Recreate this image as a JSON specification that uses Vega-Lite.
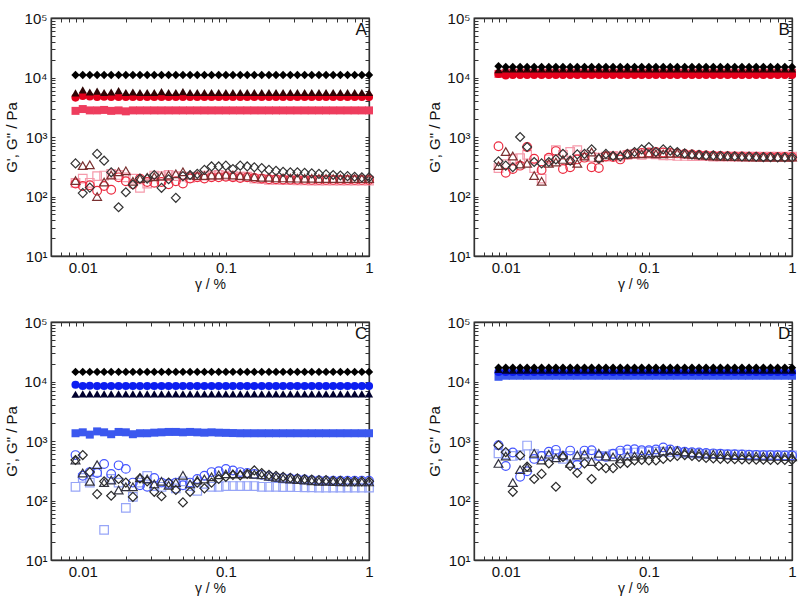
{
"$schema":"https://vega.github.io/schema/vega-lite/v6.json",
"background":"white",
"padding":{"left":4,"top":10,"right":4,"bottom":4},
"datasets":{
"A":[
{"s":"S1","x":0.0089,"y":2750},{"s":"S1","x":0.01,"y":2950},{"s":"S1","x":0.0112,"y":2800},{"s":"S1","x":0.0126,"y":2800},{"s":"S1","x":0.0141,"y":2850},{"s":"S1","x":0.0158,"y":2750},{"s":"S1","x":0.0178,"y":2800},{"s":"S1","x":0.02,"y":2700},{"s":"S1","x":0.0224,"y":2800},{"s":"S1","x":0.0251,"y":2800},{"s":"S1","x":0.0282,"y":2800},{"s":"S1","x":0.0316,"y":2800},{"s":"S1","x":0.0355,"y":2800},{"s":"S1","x":0.0398,"y":2800},{"s":"S1","x":0.0447,"y":2800},{"s":"S1","x":0.0501,"y":2800},{"s":"S1","x":0.0562,"y":2800},{"s":"S1","x":0.0631,"y":2800},{"s":"S1","x":0.0708,"y":2800},{"s":"S1","x":0.0794,"y":2800},{"s":"S1","x":0.0891,"y":2800},{"s":"S1","x":0.1,"y":2800},{"s":"S1","x":0.112,"y":2800},{"s":"S1","x":0.126,"y":2800},{"s":"S1","x":0.141,"y":2800},{"s":"S1","x":0.158,"y":2800},{"s":"S1","x":0.178,"y":2800},{"s":"S1","x":0.2,"y":2800},{"s":"S1","x":0.224,"y":2800},{"s":"S1","x":0.251,"y":2800},{"s":"S1","x":0.282,"y":2800},{"s":"S1","x":0.316,"y":2800},{"s":"S1","x":0.355,"y":2800},{"s":"S1","x":0.398,"y":2800},{"s":"S1","x":0.447,"y":2800},{"s":"S1","x":0.501,"y":2800},{"s":"S1","x":0.562,"y":2800},{"s":"S1","x":0.631,"y":2800},{"s":"S1","x":0.708,"y":2800},{"s":"S1","x":0.794,"y":2800},{"s":"S1","x":0.891,"y":2800},{"s":"S1","x":1,"y":2800},
{"s":"C1","x":0.0089,"y":4600},{"s":"C1","x":0.01,"y":4900},{"s":"C1","x":0.0112,"y":4800},{"s":"C1","x":0.0126,"y":4700},{"s":"C1","x":0.0141,"y":4750},{"s":"C1","x":0.0158,"y":4700},{"s":"C1","x":0.0178,"y":4700},{"s":"C1","x":0.02,"y":4700},{"s":"C1","x":0.0224,"y":4700},{"s":"C1","x":0.0251,"y":4700},{"s":"C1","x":0.0282,"y":4700},{"s":"C1","x":0.0316,"y":4700},{"s":"C1","x":0.0355,"y":4700},{"s":"C1","x":0.0398,"y":4700},{"s":"C1","x":0.0447,"y":4700},{"s":"C1","x":0.0501,"y":4700},{"s":"C1","x":0.0562,"y":4700},{"s":"C1","x":0.0631,"y":4700},{"s":"C1","x":0.0708,"y":4700},{"s":"C1","x":0.0794,"y":4700},{"s":"C1","x":0.0891,"y":4700},{"s":"C1","x":0.1,"y":4700},{"s":"C1","x":0.112,"y":4700},{"s":"C1","x":0.126,"y":4700},{"s":"C1","x":0.141,"y":4700},{"s":"C1","x":0.158,"y":4700},{"s":"C1","x":0.178,"y":4700},{"s":"C1","x":0.2,"y":4700},{"s":"C1","x":0.224,"y":4700},{"s":"C1","x":0.251,"y":4700},{"s":"C1","x":0.282,"y":4700},{"s":"C1","x":0.316,"y":4700},{"s":"C1","x":0.355,"y":4700},{"s":"C1","x":0.398,"y":4700},{"s":"C1","x":0.447,"y":4700},{"s":"C1","x":0.501,"y":4700},{"s":"C1","x":0.562,"y":4700},{"s":"C1","x":0.631,"y":4700},{"s":"C1","x":0.708,"y":4700},{"s":"C1","x":0.794,"y":4700},{"s":"C1","x":0.891,"y":4700},{"s":"C1","x":1,"y":4700},
{"s":"T1","x":0.0089,"y":5500},{"s":"T1","x":0.01,"y":6200},{"s":"T1","x":0.0112,"y":5700},{"s":"T1","x":0.0126,"y":5900},{"s":"T1","x":0.0141,"y":5600},{"s":"T1","x":0.0158,"y":5700},{"s":"T1","x":0.0178,"y":6000},{"s":"T1","x":0.02,"y":5600},{"s":"T1","x":0.0224,"y":5700},{"s":"T1","x":0.0251,"y":5600},{"s":"T1","x":0.0282,"y":5600},{"s":"T1","x":0.0316,"y":5600},{"s":"T1","x":0.0355,"y":5800},{"s":"T1","x":0.0398,"y":5600},{"s":"T1","x":0.0447,"y":5600},{"s":"T1","x":0.0501,"y":5800},{"s":"T1","x":0.0562,"y":5600},{"s":"T1","x":0.0631,"y":5600},{"s":"T1","x":0.0708,"y":5600},{"s":"T1","x":0.0794,"y":5600},{"s":"T1","x":0.0891,"y":5600},{"s":"T1","x":0.1,"y":5600},{"s":"T1","x":0.112,"y":5600},{"s":"T1","x":0.126,"y":5600},{"s":"T1","x":0.141,"y":5600},{"s":"T1","x":0.158,"y":5600},{"s":"T1","x":0.178,"y":5600},{"s":"T1","x":0.2,"y":5600},{"s":"T1","x":0.224,"y":5600},{"s":"T1","x":0.251,"y":5600},{"s":"T1","x":0.282,"y":5600},{"s":"T1","x":0.316,"y":5600},{"s":"T1","x":0.355,"y":5600},{"s":"T1","x":0.398,"y":5600},{"s":"T1","x":0.447,"y":5600},{"s":"T1","x":0.501,"y":5600},{"s":"T1","x":0.562,"y":5600},{"s":"T1","x":0.631,"y":5600},{"s":"T1","x":0.708,"y":5600},{"s":"T1","x":0.794,"y":5600},{"s":"T1","x":0.891,"y":5600},{"s":"T1","x":1,"y":5600},
{"s":"D1","x":0.0089,"y":11000},{"s":"D1","x":0.01,"y":11000},{"s":"D1","x":0.0112,"y":11000},{"s":"D1","x":0.0126,"y":11000},{"s":"D1","x":0.0141,"y":11000},{"s":"D1","x":0.0158,"y":11000},{"s":"D1","x":0.0178,"y":11000},{"s":"D1","x":0.02,"y":11000},{"s":"D1","x":0.0224,"y":11000},{"s":"D1","x":0.0251,"y":11000},{"s":"D1","x":0.0282,"y":11000},{"s":"D1","x":0.0316,"y":11000},{"s":"D1","x":0.0355,"y":11000},{"s":"D1","x":0.0398,"y":11000},{"s":"D1","x":0.0447,"y":11000},{"s":"D1","x":0.0501,"y":11000},{"s":"D1","x":0.0562,"y":11000},{"s":"D1","x":0.0631,"y":11000},{"s":"D1","x":0.0708,"y":11000},{"s":"D1","x":0.0794,"y":11000},{"s":"D1","x":0.0891,"y":11000},{"s":"D1","x":0.1,"y":11000},{"s":"D1","x":0.112,"y":11000},{"s":"D1","x":0.126,"y":11000},{"s":"D1","x":0.141,"y":11000},{"s":"D1","x":0.158,"y":11000},{"s":"D1","x":0.178,"y":11000},{"s":"D1","x":0.2,"y":11000},{"s":"D1","x":0.224,"y":11000},{"s":"D1","x":0.251,"y":11000},{"s":"D1","x":0.282,"y":11000},{"s":"D1","x":0.316,"y":11000},{"s":"D1","x":0.355,"y":11000},{"s":"D1","x":0.398,"y":11000},{"s":"D1","x":0.447,"y":11000},{"s":"D1","x":0.501,"y":11000},{"s":"D1","x":0.562,"y":11000},{"s":"D1","x":0.631,"y":11000},{"s":"D1","x":0.708,"y":11000},{"s":"D1","x":0.794,"y":11000},{"s":"D1","x":0.891,"y":11000},{"s":"D1","x":1,"y":11000},
{"s":"S2","x":0.0089,"y":170},{"s":"S2","x":0.01,"y":200},{"s":"S2","x":0.0112,"y":170},{"s":"S2","x":0.0126,"y":220},{"s":"S2","x":0.0141,"y":225},{"s":"S2","x":0.0158,"y":240},{"s":"S2","x":0.0178,"y":230},{"s":"S2","x":0.02,"y":210},{"s":"S2","x":0.0224,"y":200},{"s":"S2","x":0.0251,"y":140},{"s":"S2","x":0.0282,"y":165},{"s":"S2","x":0.0316,"y":225},{"s":"S2","x":0.0355,"y":220},{"s":"S2","x":0.0398,"y":230},{"s":"S2","x":0.0447,"y":220},{"s":"S2","x":0.0501,"y":215},{"s":"S2","x":0.0562,"y":205},{"s":"S2","x":0.0631,"y":215},{"s":"S2","x":0.0708,"y":225},{"s":"S2","x":0.0794,"y":225},{"s":"S2","x":0.0891,"y":230},{"s":"S2","x":0.1,"y":225},{"s":"S2","x":0.112,"y":220},{"s":"S2","x":0.126,"y":215},{"s":"S2","x":0.141,"y":215},{"s":"S2","x":0.158,"y":200},{"s":"S2","x":0.178,"y":195},{"s":"S2","x":0.2,"y":190},{"s":"S2","x":0.224,"y":190},{"s":"S2","x":0.251,"y":188},{"s":"S2","x":0.282,"y":188},{"s":"S2","x":0.316,"y":186},{"s":"S2","x":0.355,"y":186},{"s":"S2","x":0.398,"y":185},{"s":"S2","x":0.447,"y":185},{"s":"S2","x":0.501,"y":185},{"s":"S2","x":0.562,"y":185},{"s":"S2","x":0.631,"y":185},{"s":"S2","x":0.708,"y":185},{"s":"S2","x":0.794,"y":185},{"s":"S2","x":0.891,"y":185},{"s":"S2","x":1,"y":185},
{"s":"C2","x":0.0089,"y":165},{"s":"C2","x":0.01,"y":150},{"s":"C2","x":0.0112,"y":155},{"s":"C2","x":0.0126,"y":125},{"s":"C2","x":0.0141,"y":150},{"s":"C2","x":0.0158,"y":130},{"s":"C2","x":0.0178,"y":210},{"s":"C2","x":0.02,"y":180},{"s":"C2","x":0.0224,"y":160},{"s":"C2","x":0.0251,"y":200},{"s":"C2","x":0.0282,"y":175},{"s":"C2","x":0.0316,"y":170},{"s":"C2","x":0.0355,"y":175},{"s":"C2","x":0.0398,"y":160},{"s":"C2","x":0.0447,"y":180},{"s":"C2","x":0.0501,"y":165},{"s":"C2","x":0.0562,"y":200},{"s":"C2","x":0.0631,"y":210},{"s":"C2","x":0.0708,"y":200},{"s":"C2","x":0.0794,"y":210},{"s":"C2","x":0.0891,"y":210},{"s":"C2","x":0.1,"y":215},{"s":"C2","x":0.112,"y":210},{"s":"C2","x":0.126,"y":205},{"s":"C2","x":0.141,"y":210},{"s":"C2","x":0.158,"y":205},{"s":"C2","x":0.178,"y":200},{"s":"C2","x":0.2,"y":195},{"s":"C2","x":0.224,"y":195},{"s":"C2","x":0.251,"y":193},{"s":"C2","x":0.282,"y":192},{"s":"C2","x":0.316,"y":191},{"s":"C2","x":0.355,"y":190},{"s":"C2","x":0.398,"y":190},{"s":"C2","x":0.447,"y":190},{"s":"C2","x":0.501,"y":190},{"s":"C2","x":0.562,"y":190},{"s":"C2","x":0.631,"y":190},{"s":"C2","x":0.708,"y":190},{"s":"C2","x":0.794,"y":190},{"s":"C2","x":0.891,"y":190},{"s":"C2","x":1,"y":190},
{"s":"T2","x":0.0089,"y":185},{"s":"T2","x":0.01,"y":330},{"s":"T2","x":0.0112,"y":340},{"s":"T2","x":0.0126,"y":100},{"s":"T2","x":0.0141,"y":175},{"s":"T2","x":0.0158,"y":230},{"s":"T2","x":0.0178,"y":260},{"s":"T2","x":0.02,"y":270},{"s":"T2","x":0.0224,"y":180},{"s":"T2","x":0.0251,"y":200},{"s":"T2","x":0.0282,"y":210},{"s":"T2","x":0.0316,"y":215},{"s":"T2","x":0.0355,"y":220},{"s":"T2","x":0.0398,"y":230},{"s":"T2","x":0.0447,"y":240},{"s":"T2","x":0.0501,"y":260},{"s":"T2","x":0.0562,"y":230},{"s":"T2","x":0.0631,"y":225},{"s":"T2","x":0.0708,"y":225},{"s":"T2","x":0.0794,"y":230},{"s":"T2","x":0.0891,"y":230},{"s":"T2","x":0.1,"y":235},{"s":"T2","x":0.112,"y":230},{"s":"T2","x":0.126,"y":225},{"s":"T2","x":0.141,"y":220},{"s":"T2","x":0.158,"y":215},{"s":"T2","x":0.178,"y":210},{"s":"T2","x":0.2,"y":210},{"s":"T2","x":0.224,"y":205},{"s":"T2","x":0.251,"y":205},{"s":"T2","x":0.282,"y":204},{"s":"T2","x":0.316,"y":203},{"s":"T2","x":0.355,"y":202},{"s":"T2","x":0.398,"y":202},{"s":"T2","x":0.447,"y":201},{"s":"T2","x":0.501,"y":201},{"s":"T2","x":0.562,"y":200},{"s":"T2","x":0.631,"y":200},{"s":"T2","x":0.708,"y":200},{"s":"T2","x":0.794,"y":200},{"s":"T2","x":0.891,"y":200},{"s":"T2","x":1,"y":200},
{"s":"D2","x":0.0089,"y":360},{"s":"D2","x":0.01,"y":114},{"s":"D2","x":0.0112,"y":141},{"s":"D2","x":0.0126,"y":520},{"s":"D2","x":0.0141,"y":400},{"s":"D2","x":0.0158,"y":255},{"s":"D2","x":0.0178,"y":66},{"s":"D2","x":0.02,"y":118},{"s":"D2","x":0.0224,"y":158},{"s":"D2","x":0.0251,"y":200},{"s":"D2","x":0.0282,"y":200},{"s":"D2","x":0.0316,"y":230},{"s":"D2","x":0.0355,"y":140},{"s":"D2","x":0.0398,"y":195},{"s":"D2","x":0.0447,"y":95},{"s":"D2","x":0.0501,"y":220},{"s":"D2","x":0.0562,"y":230},{"s":"D2","x":0.0631,"y":240},{"s":"D2","x":0.0708,"y":280},{"s":"D2","x":0.0794,"y":320},{"s":"D2","x":0.0891,"y":320},{"s":"D2","x":0.1,"y":330},{"s":"D2","x":0.112,"y":290},{"s":"D2","x":0.126,"y":330},{"s":"D2","x":0.141,"y":320},{"s":"D2","x":0.158,"y":310},{"s":"D2","x":0.178,"y":300},{"s":"D2","x":0.2,"y":280},{"s":"D2","x":0.224,"y":270},{"s":"D2","x":0.251,"y":260},{"s":"D2","x":0.282,"y":255},{"s":"D2","x":0.316,"y":255},{"s":"D2","x":0.355,"y":250},{"s":"D2","x":0.398,"y":245},{"s":"D2","x":0.447,"y":240},{"s":"D2","x":0.501,"y":235},{"s":"D2","x":0.562,"y":230},{"s":"D2","x":0.631,"y":225},{"s":"D2","x":0.708,"y":220},{"s":"D2","x":0.794,"y":215},{"s":"D2","x":0.891,"y":210},{"s":"D2","x":1,"y":210}
],
"B":[
{"s":"S1","x":0.0089,"y":11500},{"s":"S1","x":0.01,"y":12000},{"s":"S1","x":0.0112,"y":12000},{"s":"S1","x":0.0126,"y":12000},{"s":"S1","x":0.0141,"y":12000},{"s":"S1","x":0.0158,"y":12000},{"s":"S1","x":0.0178,"y":12000},{"s":"S1","x":0.02,"y":12000},{"s":"S1","x":0.0224,"y":12000},{"s":"S1","x":0.0251,"y":12000},{"s":"S1","x":0.0282,"y":12000},{"s":"S1","x":0.0316,"y":12000},{"s":"S1","x":0.0355,"y":12000},{"s":"S1","x":0.0398,"y":12000},{"s":"S1","x":0.0447,"y":12000},{"s":"S1","x":0.0501,"y":12000},{"s":"S1","x":0.0562,"y":12000},{"s":"S1","x":0.0631,"y":12000},{"s":"S1","x":0.0708,"y":12000},{"s":"S1","x":0.0794,"y":12000},{"s":"S1","x":0.0891,"y":12000},{"s":"S1","x":0.1,"y":12000},{"s":"S1","x":0.112,"y":12000},{"s":"S1","x":0.126,"y":12000},{"s":"S1","x":0.141,"y":12000},{"s":"S1","x":0.158,"y":12000},{"s":"S1","x":0.178,"y":12000},{"s":"S1","x":0.2,"y":12000},{"s":"S1","x":0.224,"y":12000},{"s":"S1","x":0.251,"y":12000},{"s":"S1","x":0.282,"y":12000},{"s":"S1","x":0.316,"y":12000},{"s":"S1","x":0.355,"y":12000},{"s":"S1","x":0.398,"y":12000},{"s":"S1","x":0.447,"y":12000},{"s":"S1","x":0.501,"y":12000},{"s":"S1","x":0.562,"y":12000},{"s":"S1","x":0.631,"y":12000},{"s":"S1","x":0.708,"y":12000},{"s":"S1","x":0.794,"y":12000},{"s":"S1","x":0.891,"y":12000},{"s":"S1","x":1,"y":12000},
{"s":"C1","x":0.0089,"y":11500},{"s":"C1","x":0.01,"y":10800},{"s":"C1","x":0.0112,"y":11000},{"s":"C1","x":0.0126,"y":11000},{"s":"C1","x":0.0141,"y":11000},{"s":"C1","x":0.0158,"y":11000},{"s":"C1","x":0.0178,"y":11000},{"s":"C1","x":0.02,"y":11000},{"s":"C1","x":0.0224,"y":11000},{"s":"C1","x":0.0251,"y":11000},{"s":"C1","x":0.0282,"y":11000},{"s":"C1","x":0.0316,"y":11000},{"s":"C1","x":0.0355,"y":11000},{"s":"C1","x":0.0398,"y":11000},{"s":"C1","x":0.0447,"y":11000},{"s":"C1","x":0.0501,"y":11000},{"s":"C1","x":0.0562,"y":11000},{"s":"C1","x":0.0631,"y":11000},{"s":"C1","x":0.0708,"y":11000},{"s":"C1","x":0.0794,"y":11000},{"s":"C1","x":0.0891,"y":11000},{"s":"C1","x":0.1,"y":11000},{"s":"C1","x":0.112,"y":11000},{"s":"C1","x":0.126,"y":11000},{"s":"C1","x":0.141,"y":11000},{"s":"C1","x":0.158,"y":11000},{"s":"C1","x":0.178,"y":11000},{"s":"C1","x":0.2,"y":11000},{"s":"C1","x":0.224,"y":11000},{"s":"C1","x":0.251,"y":11000},{"s":"C1","x":0.282,"y":11000},{"s":"C1","x":0.316,"y":11000},{"s":"C1","x":0.355,"y":11000},{"s":"C1","x":0.398,"y":11000},{"s":"C1","x":0.447,"y":11000},{"s":"C1","x":0.501,"y":11000},{"s":"C1","x":0.562,"y":11000},{"s":"C1","x":0.631,"y":11000},{"s":"C1","x":0.708,"y":11000},{"s":"C1","x":0.794,"y":11000},{"s":"C1","x":0.891,"y":11000},{"s":"C1","x":1,"y":11000},
{"s":"T1","x":0.0089,"y":13500},{"s":"T1","x":0.01,"y":14000},{"s":"T1","x":0.0112,"y":14000},{"s":"T1","x":0.0126,"y":14000},{"s":"T1","x":0.0141,"y":14000},{"s":"T1","x":0.0158,"y":14000},{"s":"T1","x":0.0178,"y":14000},{"s":"T1","x":0.02,"y":14000},{"s":"T1","x":0.0224,"y":14000},{"s":"T1","x":0.0251,"y":14000},{"s":"T1","x":0.0282,"y":14000},{"s":"T1","x":0.0316,"y":14000},{"s":"T1","x":0.0355,"y":14000},{"s":"T1","x":0.0398,"y":14000},{"s":"T1","x":0.0447,"y":14000},{"s":"T1","x":0.0501,"y":14000},{"s":"T1","x":0.0562,"y":14000},{"s":"T1","x":0.0631,"y":14000},{"s":"T1","x":0.0708,"y":14000},{"s":"T1","x":0.0794,"y":14000},{"s":"T1","x":0.0891,"y":14000},{"s":"T1","x":0.1,"y":14000},{"s":"T1","x":0.112,"y":14000},{"s":"T1","x":0.126,"y":14000},{"s":"T1","x":0.141,"y":14000},{"s":"T1","x":0.158,"y":14000},{"s":"T1","x":0.178,"y":14000},{"s":"T1","x":0.2,"y":14000},{"s":"T1","x":0.224,"y":14000},{"s":"T1","x":0.251,"y":14000},{"s":"T1","x":0.282,"y":14000},{"s":"T1","x":0.316,"y":14000},{"s":"T1","x":0.355,"y":14000},{"s":"T1","x":0.398,"y":14000},{"s":"T1","x":0.447,"y":14000},{"s":"T1","x":0.501,"y":14000},{"s":"T1","x":0.562,"y":14000},{"s":"T1","x":0.631,"y":14000},{"s":"T1","x":0.708,"y":14000},{"s":"T1","x":0.794,"y":14000},{"s":"T1","x":0.891,"y":14000},{"s":"T1","x":1,"y":14000},
{"s":"D1","x":0.0089,"y":15500},{"s":"D1","x":0.01,"y":15000},{"s":"D1","x":0.0112,"y":15000},{"s":"D1","x":0.0126,"y":15000},{"s":"D1","x":0.0141,"y":15000},{"s":"D1","x":0.0158,"y":15000},{"s":"D1","x":0.0178,"y":15000},{"s":"D1","x":0.02,"y":15000},{"s":"D1","x":0.0224,"y":15000},{"s":"D1","x":0.0251,"y":15000},{"s":"D1","x":0.0282,"y":15000},{"s":"D1","x":0.0316,"y":15000},{"s":"D1","x":0.0355,"y":15000},{"s":"D1","x":0.0398,"y":15000},{"s":"D1","x":0.0447,"y":15000},{"s":"D1","x":0.0501,"y":15000},{"s":"D1","x":0.0562,"y":15000},{"s":"D1","x":0.0631,"y":15000},{"s":"D1","x":0.0708,"y":15000},{"s":"D1","x":0.0794,"y":15000},{"s":"D1","x":0.0891,"y":15000},{"s":"D1","x":0.1,"y":15000},{"s":"D1","x":0.112,"y":15000},{"s":"D1","x":0.126,"y":15000},{"s":"D1","x":0.141,"y":15000},{"s":"D1","x":0.158,"y":15000},{"s":"D1","x":0.178,"y":15000},{"s":"D1","x":0.2,"y":15000},{"s":"D1","x":0.224,"y":15000},{"s":"D1","x":0.251,"y":15000},{"s":"D1","x":0.282,"y":15000},{"s":"D1","x":0.316,"y":15000},{"s":"D1","x":0.355,"y":15000},{"s":"D1","x":0.398,"y":15000},{"s":"D1","x":0.447,"y":15000},{"s":"D1","x":0.501,"y":15000},{"s":"D1","x":0.562,"y":15000},{"s":"D1","x":0.631,"y":15000},{"s":"D1","x":0.708,"y":15000},{"s":"D1","x":0.794,"y":15000},{"s":"D1","x":0.891,"y":15000},{"s":"D1","x":1,"y":15000},
{"s":"S2","x":0.0089,"y":300},{"s":"S2","x":0.01,"y":350},{"s":"S2","x":0.0112,"y":430},{"s":"S2","x":0.0126,"y":440},{"s":"S2","x":0.0141,"y":500},{"s":"S2","x":0.0158,"y":300},{"s":"S2","x":0.0178,"y":200},{"s":"S2","x":0.02,"y":420},{"s":"S2","x":0.0224,"y":600},{"s":"S2","x":0.0251,"y":500},{"s":"S2","x":0.0282,"y":560},{"s":"S2","x":0.0316,"y":600},{"s":"S2","x":0.0355,"y":500},{"s":"S2","x":0.0398,"y":460},{"s":"S2","x":0.0447,"y":450},{"s":"S2","x":0.0501,"y":470},{"s":"S2","x":0.0562,"y":480},{"s":"S2","x":0.0631,"y":470},{"s":"S2","x":0.0708,"y":500},{"s":"S2","x":0.0794,"y":520},{"s":"S2","x":0.0891,"y":500},{"s":"S2","x":0.1,"y":520},{"s":"S2","x":0.112,"y":510},{"s":"S2","x":0.126,"y":490},{"s":"S2","x":0.141,"y":490},{"s":"S2","x":0.158,"y":480},{"s":"S2","x":0.178,"y":480},{"s":"S2","x":0.2,"y":475},{"s":"S2","x":0.224,"y":475},{"s":"S2","x":0.251,"y":475},{"s":"S2","x":0.282,"y":470},{"s":"S2","x":0.316,"y":470},{"s":"S2","x":0.355,"y":470},{"s":"S2","x":0.398,"y":470},{"s":"S2","x":0.447,"y":470},{"s":"S2","x":0.501,"y":470},{"s":"S2","x":0.562,"y":470},{"s":"S2","x":0.631,"y":470},{"s":"S2","x":0.708,"y":470},{"s":"S2","x":0.794,"y":470},{"s":"S2","x":0.891,"y":470},{"s":"S2","x":1,"y":470},
{"s":"C2","x":0.0089,"y":700},{"s":"C2","x":0.01,"y":250},{"s":"C2","x":0.0112,"y":290},{"s":"C2","x":0.0126,"y":330},{"s":"C2","x":0.0141,"y":680},{"s":"C2","x":0.0158,"y":430},{"s":"C2","x":0.0178,"y":280},{"s":"C2","x":0.02,"y":450},{"s":"C2","x":0.0224,"y":580},{"s":"C2","x":0.0251,"y":290},{"s":"C2","x":0.0282,"y":310},{"s":"C2","x":0.0316,"y":420},{"s":"C2","x":0.0355,"y":450},{"s":"C2","x":0.0398,"y":310},{"s":"C2","x":0.0447,"y":300},{"s":"C2","x":0.0501,"y":470},{"s":"C2","x":0.0562,"y":460},{"s":"C2","x":0.0631,"y":420},{"s":"C2","x":0.0708,"y":510},{"s":"C2","x":0.0794,"y":530},{"s":"C2","x":0.0891,"y":540},{"s":"C2","x":0.1,"y":550},{"s":"C2","x":0.112,"y":560},{"s":"C2","x":0.126,"y":550},{"s":"C2","x":0.141,"y":540},{"s":"C2","x":0.158,"y":530},{"s":"C2","x":0.178,"y":520},{"s":"C2","x":0.2,"y":510},{"s":"C2","x":0.224,"y":500},{"s":"C2","x":0.251,"y":490},{"s":"C2","x":0.282,"y":485},{"s":"C2","x":0.316,"y":480},{"s":"C2","x":0.355,"y":475},{"s":"C2","x":0.398,"y":470},{"s":"C2","x":0.447,"y":470},{"s":"C2","x":0.501,"y":465},{"s":"C2","x":0.562,"y":465},{"s":"C2","x":0.631,"y":460},{"s":"C2","x":0.708,"y":460},{"s":"C2","x":0.794,"y":460},{"s":"C2","x":0.891,"y":460},{"s":"C2","x":1,"y":460},
{"s":"T2","x":0.0089,"y":330},{"s":"T2","x":0.01,"y":570},{"s":"T2","x":0.0112,"y":480},{"s":"T2","x":0.0126,"y":350},{"s":"T2","x":0.0141,"y":360},{"s":"T2","x":0.0158,"y":225},{"s":"T2","x":0.0178,"y":180},{"s":"T2","x":0.02,"y":360},{"s":"T2","x":0.0224,"y":380},{"s":"T2","x":0.0251,"y":420},{"s":"T2","x":0.0282,"y":400},{"s":"T2","x":0.0316,"y":360},{"s":"T2","x":0.0355,"y":480},{"s":"T2","x":0.0398,"y":560},{"s":"T2","x":0.0447,"y":450},{"s":"T2","x":0.0501,"y":500},{"s":"T2","x":0.0562,"y":490},{"s":"T2","x":0.0631,"y":500},{"s":"T2","x":0.0708,"y":510},{"s":"T2","x":0.0794,"y":520},{"s":"T2","x":0.0891,"y":520},{"s":"T2","x":0.1,"y":530},{"s":"T2","x":0.112,"y":520},{"s":"T2","x":0.126,"y":520},{"s":"T2","x":0.141,"y":530},{"s":"T2","x":0.158,"y":540},{"s":"T2","x":0.178,"y":520},{"s":"T2","x":0.2,"y":510},{"s":"T2","x":0.224,"y":500},{"s":"T2","x":0.251,"y":490},{"s":"T2","x":0.282,"y":480},{"s":"T2","x":0.316,"y":475},{"s":"T2","x":0.355,"y":470},{"s":"T2","x":0.398,"y":470},{"s":"T2","x":0.447,"y":465},{"s":"T2","x":0.501,"y":465},{"s":"T2","x":0.562,"y":460},{"s":"T2","x":0.631,"y":460},{"s":"T2","x":0.708,"y":460},{"s":"T2","x":0.794,"y":460},{"s":"T2","x":0.891,"y":460},{"s":"T2","x":1,"y":460},
{"s":"D2","x":0.0089,"y":390},{"s":"D2","x":0.01,"y":330},{"s":"D2","x":0.0112,"y":310},{"s":"D2","x":0.0126,"y":1000},{"s":"D2","x":0.0141,"y":680},{"s":"D2","x":0.0158,"y":380},{"s":"D2","x":0.0178,"y":360},{"s":"D2","x":0.02,"y":380},{"s":"D2","x":0.0224,"y":420},{"s":"D2","x":0.0251,"y":520},{"s":"D2","x":0.0282,"y":400},{"s":"D2","x":0.0316,"y":510},{"s":"D2","x":0.0355,"y":520},{"s":"D2","x":0.0398,"y":620},{"s":"D2","x":0.0447,"y":430},{"s":"D2","x":0.0501,"y":520},{"s":"D2","x":0.0562,"y":480},{"s":"D2","x":0.0631,"y":470},{"s":"D2","x":0.0708,"y":520},{"s":"D2","x":0.0794,"y":560},{"s":"D2","x":0.0891,"y":620},{"s":"D2","x":0.1,"y":680},{"s":"D2","x":0.112,"y":560},{"s":"D2","x":0.126,"y":620},{"s":"D2","x":0.141,"y":590},{"s":"D2","x":0.158,"y":560},{"s":"D2","x":0.178,"y":530},{"s":"D2","x":0.2,"y":510},{"s":"D2","x":0.224,"y":500},{"s":"D2","x":0.251,"y":490},{"s":"D2","x":0.282,"y":490},{"s":"D2","x":0.316,"y":485},{"s":"D2","x":0.355,"y":480},{"s":"D2","x":0.398,"y":475},{"s":"D2","x":0.447,"y":470},{"s":"D2","x":0.501,"y":470},{"s":"D2","x":0.562,"y":465},{"s":"D2","x":0.631,"y":460},{"s":"D2","x":0.708,"y":460},{"s":"D2","x":0.794,"y":455},{"s":"D2","x":0.891,"y":455},{"s":"D2","x":1,"y":455}
],
"C":[
{"s":"S1","x":0.0089,"y":1350},{"s":"S1","x":0.01,"y":1400},{"s":"S1","x":0.0112,"y":1280},{"s":"S1","x":0.0126,"y":1450},{"s":"S1","x":0.0141,"y":1400},{"s":"S1","x":0.0158,"y":1300},{"s":"S1","x":0.0178,"y":1420},{"s":"S1","x":0.02,"y":1400},{"s":"S1","x":0.0224,"y":1300},{"s":"S1","x":0.0251,"y":1350},{"s":"S1","x":0.0282,"y":1350},{"s":"S1","x":0.0316,"y":1380},{"s":"S1","x":0.0355,"y":1400},{"s":"S1","x":0.0398,"y":1420},{"s":"S1","x":0.0447,"y":1420},{"s":"S1","x":0.0501,"y":1400},{"s":"S1","x":0.0562,"y":1420},{"s":"S1","x":0.0631,"y":1400},{"s":"S1","x":0.0708,"y":1380},{"s":"S1","x":0.0794,"y":1400},{"s":"S1","x":0.0891,"y":1380},{"s":"S1","x":0.1,"y":1370},{"s":"S1","x":0.112,"y":1360},{"s":"S1","x":0.126,"y":1350},{"s":"S1","x":0.141,"y":1350},{"s":"S1","x":0.158,"y":1350},{"s":"S1","x":0.178,"y":1350},{"s":"S1","x":0.2,"y":1350},{"s":"S1","x":0.224,"y":1350},{"s":"S1","x":0.251,"y":1350},{"s":"S1","x":0.282,"y":1350},{"s":"S1","x":0.316,"y":1350},{"s":"S1","x":0.355,"y":1350},{"s":"S1","x":0.398,"y":1350},{"s":"S1","x":0.447,"y":1350},{"s":"S1","x":0.501,"y":1350},{"s":"S1","x":0.562,"y":1350},{"s":"S1","x":0.631,"y":1350},{"s":"S1","x":0.708,"y":1350},{"s":"S1","x":0.794,"y":1350},{"s":"S1","x":0.891,"y":1350},{"s":"S1","x":1,"y":1350},
{"s":"C1","x":0.0089,"y":8800},{"s":"C1","x":0.01,"y":8400},{"s":"C1","x":0.0112,"y":8500},{"s":"C1","x":0.0126,"y":8400},{"s":"C1","x":0.0141,"y":8400},{"s":"C1","x":0.0158,"y":8400},{"s":"C1","x":0.0178,"y":8400},{"s":"C1","x":0.02,"y":8400},{"s":"C1","x":0.0224,"y":8400},{"s":"C1","x":0.0251,"y":8400},{"s":"C1","x":0.0282,"y":8400},{"s":"C1","x":0.0316,"y":8400},{"s":"C1","x":0.0355,"y":8400},{"s":"C1","x":0.0398,"y":8400},{"s":"C1","x":0.0447,"y":8400},{"s":"C1","x":0.0501,"y":8400},{"s":"C1","x":0.0562,"y":8400},{"s":"C1","x":0.0631,"y":8400},{"s":"C1","x":0.0708,"y":8400},{"s":"C1","x":0.0794,"y":8400},{"s":"C1","x":0.0891,"y":8400},{"s":"C1","x":0.1,"y":8400},{"s":"C1","x":0.112,"y":8400},{"s":"C1","x":0.126,"y":8400},{"s":"C1","x":0.141,"y":8400},{"s":"C1","x":0.158,"y":8400},{"s":"C1","x":0.178,"y":8400},{"s":"C1","x":0.2,"y":8400},{"s":"C1","x":0.224,"y":8400},{"s":"C1","x":0.251,"y":8400},{"s":"C1","x":0.282,"y":8400},{"s":"C1","x":0.316,"y":8400},{"s":"C1","x":0.355,"y":8400},{"s":"C1","x":0.398,"y":8400},{"s":"C1","x":0.447,"y":8400},{"s":"C1","x":0.501,"y":8400},{"s":"C1","x":0.562,"y":8400},{"s":"C1","x":0.631,"y":8400},{"s":"C1","x":0.708,"y":8400},{"s":"C1","x":0.794,"y":8400},{"s":"C1","x":0.891,"y":8400},{"s":"C1","x":1,"y":8400},
{"s":"T1","x":0.0089,"y":6100},{"s":"T1","x":0.01,"y":6200},{"s":"T1","x":0.0112,"y":6200},{"s":"T1","x":0.0126,"y":6200},{"s":"T1","x":0.0141,"y":6200},{"s":"T1","x":0.0158,"y":6200},{"s":"T1","x":0.0178,"y":6200},{"s":"T1","x":0.02,"y":6200},{"s":"T1","x":0.0224,"y":6200},{"s":"T1","x":0.0251,"y":6200},{"s":"T1","x":0.0282,"y":6200},{"s":"T1","x":0.0316,"y":6200},{"s":"T1","x":0.0355,"y":6200},{"s":"T1","x":0.0398,"y":6200},{"s":"T1","x":0.0447,"y":6200},{"s":"T1","x":0.0501,"y":6200},{"s":"T1","x":0.0562,"y":6200},{"s":"T1","x":0.0631,"y":6200},{"s":"T1","x":0.0708,"y":6200},{"s":"T1","x":0.0794,"y":6200},{"s":"T1","x":0.0891,"y":6200},{"s":"T1","x":0.1,"y":6200},{"s":"T1","x":0.112,"y":6200},{"s":"T1","x":0.126,"y":6200},{"s":"T1","x":0.141,"y":6200},{"s":"T1","x":0.158,"y":6200},{"s":"T1","x":0.178,"y":6200},{"s":"T1","x":0.2,"y":6200},{"s":"T1","x":0.224,"y":6200},{"s":"T1","x":0.251,"y":6200},{"s":"T1","x":0.282,"y":6200},{"s":"T1","x":0.316,"y":6200},{"s":"T1","x":0.355,"y":6200},{"s":"T1","x":0.398,"y":6200},{"s":"T1","x":0.447,"y":6200},{"s":"T1","x":0.501,"y":6200},{"s":"T1","x":0.562,"y":6200},{"s":"T1","x":0.631,"y":6200},{"s":"T1","x":0.708,"y":6200},{"s":"T1","x":0.794,"y":6200},{"s":"T1","x":0.891,"y":6200},{"s":"T1","x":1,"y":6200},
{"s":"D1","x":0.0089,"y":14500},{"s":"D1","x":0.01,"y":14500},{"s":"D1","x":0.0112,"y":14500},{"s":"D1","x":0.0126,"y":14500},{"s":"D1","x":0.0141,"y":14500},{"s":"D1","x":0.0158,"y":14500},{"s":"D1","x":0.0178,"y":14500},{"s":"D1","x":0.02,"y":14500},{"s":"D1","x":0.0224,"y":14500},{"s":"D1","x":0.0251,"y":14500},{"s":"D1","x":0.0282,"y":14500},{"s":"D1","x":0.0316,"y":14500},{"s":"D1","x":0.0355,"y":14500},{"s":"D1","x":0.0398,"y":14500},{"s":"D1","x":0.0447,"y":14500},{"s":"D1","x":0.0501,"y":14500},{"s":"D1","x":0.0562,"y":14500},{"s":"D1","x":0.0631,"y":14500},{"s":"D1","x":0.0708,"y":14500},{"s":"D1","x":0.0794,"y":14500},{"s":"D1","x":0.0891,"y":14500},{"s":"D1","x":0.1,"y":14500},{"s":"D1","x":0.112,"y":14500},{"s":"D1","x":0.126,"y":14500},{"s":"D1","x":0.141,"y":14500},{"s":"D1","x":0.158,"y":14500},{"s":"D1","x":0.178,"y":14500},{"s":"D1","x":0.2,"y":14500},{"s":"D1","x":0.224,"y":14500},{"s":"D1","x":0.251,"y":14500},{"s":"D1","x":0.282,"y":14500},{"s":"D1","x":0.316,"y":14500},{"s":"D1","x":0.355,"y":14500},{"s":"D1","x":0.398,"y":14500},{"s":"D1","x":0.447,"y":14500},{"s":"D1","x":0.501,"y":14500},{"s":"D1","x":0.562,"y":14500},{"s":"D1","x":0.631,"y":14500},{"s":"D1","x":0.708,"y":14500},{"s":"D1","x":0.794,"y":14500},{"s":"D1","x":0.891,"y":14500},{"s":"D1","x":1,"y":14500},
{"s":"S2","x":0.0089,"y":170},{"s":"S2","x":0.01,"y":240},{"s":"S2","x":0.0112,"y":200},{"s":"S2","x":0.0126,"y":300},{"s":"S2","x":0.0141,"y":32},{"s":"S2","x":0.0158,"y":230},{"s":"S2","x":0.0178,"y":200},{"s":"S2","x":0.02,"y":75},{"s":"S2","x":0.0224,"y":115},{"s":"S2","x":0.0251,"y":200},{"s":"S2","x":0.0282,"y":260},{"s":"S2","x":0.0316,"y":175},{"s":"S2","x":0.0355,"y":170},{"s":"S2","x":0.0398,"y":190},{"s":"S2","x":0.0447,"y":160},{"s":"S2","x":0.0501,"y":210},{"s":"S2","x":0.0562,"y":175},{"s":"S2","x":0.0631,"y":145},{"s":"S2","x":0.0708,"y":190},{"s":"S2","x":0.0794,"y":170},{"s":"S2","x":0.0891,"y":170},{"s":"S2","x":0.1,"y":175},{"s":"S2","x":0.112,"y":175},{"s":"S2","x":0.126,"y":175},{"s":"S2","x":0.141,"y":175},{"s":"S2","x":0.158,"y":175},{"s":"S2","x":0.178,"y":170},{"s":"S2","x":0.2,"y":170},{"s":"S2","x":0.224,"y":170},{"s":"S2","x":0.251,"y":168},{"s":"S2","x":0.282,"y":168},{"s":"S2","x":0.316,"y":167},{"s":"S2","x":0.355,"y":166},{"s":"S2","x":0.398,"y":166},{"s":"S2","x":0.447,"y":165},{"s":"S2","x":0.501,"y":165},{"s":"S2","x":0.562,"y":165},{"s":"S2","x":0.631,"y":165},{"s":"S2","x":0.708,"y":165},{"s":"S2","x":0.794,"y":165},{"s":"S2","x":0.891,"y":165},{"s":"S2","x":1,"y":165},
{"s":"C2","x":0.0089,"y":580},{"s":"C2","x":0.01,"y":260},{"s":"C2","x":0.0112,"y":300},{"s":"C2","x":0.0126,"y":290},{"s":"C2","x":0.0141,"y":410},{"s":"C2","x":0.0158,"y":280},{"s":"C2","x":0.0178,"y":390},{"s":"C2","x":0.02,"y":340},{"s":"C2","x":0.0224,"y":200},{"s":"C2","x":0.0251,"y":180},{"s":"C2","x":0.0282,"y":170},{"s":"C2","x":0.0316,"y":240},{"s":"C2","x":0.0355,"y":200},{"s":"C2","x":0.0398,"y":190},{"s":"C2","x":0.0447,"y":200},{"s":"C2","x":0.0501,"y":180},{"s":"C2","x":0.0562,"y":200},{"s":"C2","x":0.0631,"y":230},{"s":"C2","x":0.0708,"y":260},{"s":"C2","x":0.0794,"y":300},{"s":"C2","x":0.0891,"y":310},{"s":"C2","x":0.1,"y":340},{"s":"C2","x":0.112,"y":320},{"s":"C2","x":0.126,"y":300},{"s":"C2","x":0.141,"y":290},{"s":"C2","x":0.158,"y":280},{"s":"C2","x":0.178,"y":270},{"s":"C2","x":0.2,"y":255},{"s":"C2","x":0.224,"y":245},{"s":"C2","x":0.251,"y":240},{"s":"C2","x":0.282,"y":235},{"s":"C2","x":0.316,"y":230},{"s":"C2","x":0.355,"y":225},{"s":"C2","x":0.398,"y":220},{"s":"C2","x":0.447,"y":218},{"s":"C2","x":0.501,"y":216},{"s":"C2","x":0.562,"y":215},{"s":"C2","x":0.631,"y":215},{"s":"C2","x":0.708,"y":215},{"s":"C2","x":0.794,"y":215},{"s":"C2","x":0.891,"y":215},{"s":"C2","x":1,"y":215},
{"s":"T2","x":0.0089,"y":480},{"s":"T2","x":0.01,"y":290},{"s":"T2","x":0.0112,"y":210},{"s":"T2","x":0.0126,"y":400},{"s":"T2","x":0.0141,"y":200},{"s":"T2","x":0.0158,"y":220},{"s":"T2","x":0.0178,"y":150},{"s":"T2","x":0.02,"y":170},{"s":"T2","x":0.0224,"y":170},{"s":"T2","x":0.0251,"y":240},{"s":"T2","x":0.0282,"y":230},{"s":"T2","x":0.0316,"y":190},{"s":"T2","x":0.0355,"y":210},{"s":"T2","x":0.0398,"y":180},{"s":"T2","x":0.0447,"y":200},{"s":"T2","x":0.0501,"y":265},{"s":"T2","x":0.0562,"y":190},{"s":"T2","x":0.0631,"y":220},{"s":"T2","x":0.0708,"y":230},{"s":"T2","x":0.0794,"y":250},{"s":"T2","x":0.0891,"y":270},{"s":"T2","x":0.1,"y":280},{"s":"T2","x":0.112,"y":280},{"s":"T2","x":0.126,"y":280},{"s":"T2","x":0.141,"y":280},{"s":"T2","x":0.158,"y":275},{"s":"T2","x":0.178,"y":270},{"s":"T2","x":0.2,"y":255},{"s":"T2","x":0.224,"y":245},{"s":"T2","x":0.251,"y":235},{"s":"T2","x":0.282,"y":230},{"s":"T2","x":0.316,"y":225},{"s":"T2","x":0.355,"y":220},{"s":"T2","x":0.398,"y":215},{"s":"T2","x":0.447,"y":210},{"s":"T2","x":0.501,"y":210},{"s":"T2","x":0.562,"y":208},{"s":"T2","x":0.631,"y":206},{"s":"T2","x":0.708,"y":205},{"s":"T2","x":0.794,"y":205},{"s":"T2","x":0.891,"y":205},{"s":"T2","x":1,"y":205},
{"s":"D2","x":0.0089,"y":480},{"s":"D2","x":0.01,"y":580},{"s":"D2","x":0.0112,"y":300},{"s":"D2","x":0.0126,"y":128},{"s":"D2","x":0.0141,"y":210},{"s":"D2","x":0.0158,"y":120},{"s":"D2","x":0.0178,"y":230},{"s":"D2","x":0.02,"y":200},{"s":"D2","x":0.0224,"y":115},{"s":"D2","x":0.0251,"y":235},{"s":"D2","x":0.0282,"y":210},{"s":"D2","x":0.0316,"y":140},{"s":"D2","x":0.0355,"y":118},{"s":"D2","x":0.0398,"y":200},{"s":"D2","x":0.0447,"y":150},{"s":"D2","x":0.0501,"y":93},{"s":"D2","x":0.0562,"y":140},{"s":"D2","x":0.0631,"y":200},{"s":"D2","x":0.0708,"y":160},{"s":"D2","x":0.0794,"y":200},{"s":"D2","x":0.0891,"y":230},{"s":"D2","x":0.1,"y":250},{"s":"D2","x":0.112,"y":270},{"s":"D2","x":0.126,"y":265},{"s":"D2","x":0.141,"y":280},{"s":"D2","x":0.158,"y":320},{"s":"D2","x":0.178,"y":290},{"s":"D2","x":0.2,"y":270},{"s":"D2","x":0.224,"y":260},{"s":"D2","x":0.251,"y":250},{"s":"D2","x":0.282,"y":240},{"s":"D2","x":0.316,"y":235},{"s":"D2","x":0.355,"y":230},{"s":"D2","x":0.398,"y":225},{"s":"D2","x":0.447,"y":220},{"s":"D2","x":0.501,"y":220},{"s":"D2","x":0.562,"y":215},{"s":"D2","x":0.631,"y":215},{"s":"D2","x":0.708,"y":210},{"s":"D2","x":0.794,"y":210},{"s":"D2","x":0.891,"y":210},{"s":"D2","x":1,"y":210}
],
"D":[
{"s":"S1","x":0.0089,"y":12000},{"s":"S1","x":0.01,"y":12500},{"s":"S1","x":0.0112,"y":12500},{"s":"S1","x":0.0126,"y":12500},{"s":"S1","x":0.0141,"y":12500},{"s":"S1","x":0.0158,"y":12500},{"s":"S1","x":0.0178,"y":12500},{"s":"S1","x":0.02,"y":12500},{"s":"S1","x":0.0224,"y":12500},{"s":"S1","x":0.0251,"y":12500},{"s":"S1","x":0.0282,"y":12500},{"s":"S1","x":0.0316,"y":12500},{"s":"S1","x":0.0355,"y":12500},{"s":"S1","x":0.0398,"y":12500},{"s":"S1","x":0.0447,"y":12500},{"s":"S1","x":0.0501,"y":12500},{"s":"S1","x":0.0562,"y":12500},{"s":"S1","x":0.0631,"y":12500},{"s":"S1","x":0.0708,"y":12500},{"s":"S1","x":0.0794,"y":12500},{"s":"S1","x":0.0891,"y":12500},{"s":"S1","x":0.1,"y":12500},{"s":"S1","x":0.112,"y":12500},{"s":"S1","x":0.126,"y":12500},{"s":"S1","x":0.141,"y":12500},{"s":"S1","x":0.158,"y":12500},{"s":"S1","x":0.178,"y":12500},{"s":"S1","x":0.2,"y":12500},{"s":"S1","x":0.224,"y":12500},{"s":"S1","x":0.251,"y":12500},{"s":"S1","x":0.282,"y":12500},{"s":"S1","x":0.316,"y":12500},{"s":"S1","x":0.355,"y":12500},{"s":"S1","x":0.398,"y":12500},{"s":"S1","x":0.447,"y":12500},{"s":"S1","x":0.501,"y":12500},{"s":"S1","x":0.562,"y":12500},{"s":"S1","x":0.631,"y":12500},{"s":"S1","x":0.708,"y":12500},{"s":"S1","x":0.794,"y":12500},{"s":"S1","x":0.891,"y":12500},{"s":"S1","x":1,"y":12500},
{"s":"C1","x":0.0089,"y":14500},{"s":"C1","x":0.01,"y":14500},{"s":"C1","x":0.0112,"y":14500},{"s":"C1","x":0.0126,"y":14500},{"s":"C1","x":0.0141,"y":14500},{"s":"C1","x":0.0158,"y":14500},{"s":"C1","x":0.0178,"y":14500},{"s":"C1","x":0.02,"y":14500},{"s":"C1","x":0.0224,"y":14500},{"s":"C1","x":0.0251,"y":14500},{"s":"C1","x":0.0282,"y":14500},{"s":"C1","x":0.0316,"y":14500},{"s":"C1","x":0.0355,"y":14500},{"s":"C1","x":0.0398,"y":14500},{"s":"C1","x":0.0447,"y":14500},{"s":"C1","x":0.0501,"y":14500},{"s":"C1","x":0.0562,"y":14500},{"s":"C1","x":0.0631,"y":14500},{"s":"C1","x":0.0708,"y":14500},{"s":"C1","x":0.0794,"y":14500},{"s":"C1","x":0.0891,"y":14500},{"s":"C1","x":0.1,"y":14500},{"s":"C1","x":0.112,"y":14500},{"s":"C1","x":0.126,"y":14500},{"s":"C1","x":0.141,"y":14500},{"s":"C1","x":0.158,"y":14500},{"s":"C1","x":0.178,"y":14500},{"s":"C1","x":0.2,"y":14500},{"s":"C1","x":0.224,"y":14500},{"s":"C1","x":0.251,"y":14500},{"s":"C1","x":0.282,"y":14500},{"s":"C1","x":0.316,"y":14500},{"s":"C1","x":0.355,"y":14500},{"s":"C1","x":0.398,"y":14500},{"s":"C1","x":0.447,"y":14500},{"s":"C1","x":0.501,"y":14500},{"s":"C1","x":0.562,"y":14500},{"s":"C1","x":0.631,"y":14500},{"s":"C1","x":0.708,"y":14500},{"s":"C1","x":0.794,"y":14500},{"s":"C1","x":0.891,"y":14500},{"s":"C1","x":1,"y":14500},
{"s":"T1","x":0.0089,"y":16000},{"s":"T1","x":0.01,"y":15500},{"s":"T1","x":0.0112,"y":15500},{"s":"T1","x":0.0126,"y":15500},{"s":"T1","x":0.0141,"y":15500},{"s":"T1","x":0.0158,"y":15500},{"s":"T1","x":0.0178,"y":15500},{"s":"T1","x":0.02,"y":15500},{"s":"T1","x":0.0224,"y":15500},{"s":"T1","x":0.0251,"y":15500},{"s":"T1","x":0.0282,"y":15500},{"s":"T1","x":0.0316,"y":15500},{"s":"T1","x":0.0355,"y":15500},{"s":"T1","x":0.0398,"y":15500},{"s":"T1","x":0.0447,"y":15500},{"s":"T1","x":0.0501,"y":15500},{"s":"T1","x":0.0562,"y":15500},{"s":"T1","x":0.0631,"y":15500},{"s":"T1","x":0.0708,"y":15500},{"s":"T1","x":0.0794,"y":15500},{"s":"T1","x":0.0891,"y":15500},{"s":"T1","x":0.1,"y":15500},{"s":"T1","x":0.112,"y":15500},{"s":"T1","x":0.126,"y":15500},{"s":"T1","x":0.141,"y":15500},{"s":"T1","x":0.158,"y":15500},{"s":"T1","x":0.178,"y":15500},{"s":"T1","x":0.2,"y":15500},{"s":"T1","x":0.224,"y":15500},{"s":"T1","x":0.251,"y":15500},{"s":"T1","x":0.282,"y":15500},{"s":"T1","x":0.316,"y":15500},{"s":"T1","x":0.355,"y":15500},{"s":"T1","x":0.398,"y":15500},{"s":"T1","x":0.447,"y":15500},{"s":"T1","x":0.501,"y":15500},{"s":"T1","x":0.562,"y":15500},{"s":"T1","x":0.631,"y":15500},{"s":"T1","x":0.708,"y":15500},{"s":"T1","x":0.794,"y":15500},{"s":"T1","x":0.891,"y":15500},{"s":"T1","x":1,"y":15500},
{"s":"D1","x":0.0089,"y":17000},{"s":"D1","x":0.01,"y":17000},{"s":"D1","x":0.0112,"y":17000},{"s":"D1","x":0.0126,"y":17000},{"s":"D1","x":0.0141,"y":17000},{"s":"D1","x":0.0158,"y":17000},{"s":"D1","x":0.0178,"y":17000},{"s":"D1","x":0.02,"y":17000},{"s":"D1","x":0.0224,"y":17000},{"s":"D1","x":0.0251,"y":17000},{"s":"D1","x":0.0282,"y":17000},{"s":"D1","x":0.0316,"y":17000},{"s":"D1","x":0.0355,"y":17000},{"s":"D1","x":0.0398,"y":17000},{"s":"D1","x":0.0447,"y":17000},{"s":"D1","x":0.0501,"y":17000},{"s":"D1","x":0.0562,"y":17000},{"s":"D1","x":0.0631,"y":17000},{"s":"D1","x":0.0708,"y":17000},{"s":"D1","x":0.0794,"y":17000},{"s":"D1","x":0.0891,"y":17000},{"s":"D1","x":0.1,"y":17000},{"s":"D1","x":0.112,"y":17000},{"s":"D1","x":0.126,"y":17000},{"s":"D1","x":0.141,"y":17000},{"s":"D1","x":0.158,"y":17000},{"s":"D1","x":0.178,"y":17000},{"s":"D1","x":0.2,"y":17000},{"s":"D1","x":0.224,"y":17000},{"s":"D1","x":0.251,"y":17000},{"s":"D1","x":0.282,"y":17000},{"s":"D1","x":0.316,"y":17000},{"s":"D1","x":0.355,"y":17000},{"s":"D1","x":0.398,"y":17000},{"s":"D1","x":0.447,"y":17000},{"s":"D1","x":0.501,"y":17000},{"s":"D1","x":0.562,"y":17000},{"s":"D1","x":0.631,"y":17000},{"s":"D1","x":0.708,"y":17000},{"s":"D1","x":0.794,"y":17000},{"s":"D1","x":0.891,"y":17000},{"s":"D1","x":1,"y":17000},
{"s":"S2","x":0.0089,"y":620},{"s":"S2","x":0.01,"y":600},{"s":"S2","x":0.0112,"y":560},{"s":"S2","x":0.0126,"y":580},{"s":"S2","x":0.0141,"y":840},{"s":"S2","x":0.0158,"y":600},{"s":"S2","x":0.0178,"y":560},{"s":"S2","x":0.02,"y":560},{"s":"S2","x":0.0224,"y":600},{"s":"S2","x":0.0251,"y":500},{"s":"S2","x":0.0282,"y":560},{"s":"S2","x":0.0316,"y":540},{"s":"S2","x":0.0355,"y":560},{"s":"S2","x":0.0398,"y":600},{"s":"S2","x":0.0447,"y":560},{"s":"S2","x":0.0501,"y":560},{"s":"S2","x":0.0562,"y":600},{"s":"S2","x":0.0631,"y":620},{"s":"S2","x":0.0708,"y":620},{"s":"S2","x":0.0794,"y":640},{"s":"S2","x":0.0891,"y":650},{"s":"S2","x":0.1,"y":660},{"s":"S2","x":0.112,"y":660},{"s":"S2","x":0.126,"y":660},{"s":"S2","x":0.141,"y":650},{"s":"S2","x":0.158,"y":640},{"s":"S2","x":0.178,"y":630},{"s":"S2","x":0.2,"y":620},{"s":"S2","x":0.224,"y":610},{"s":"S2","x":0.251,"y":600},{"s":"S2","x":0.282,"y":600},{"s":"S2","x":0.316,"y":600},{"s":"S2","x":0.355,"y":595},{"s":"S2","x":0.398,"y":590},{"s":"S2","x":0.447,"y":590},{"s":"S2","x":0.501,"y":585},{"s":"S2","x":0.562,"y":580},{"s":"S2","x":0.631,"y":580},{"s":"S2","x":0.708,"y":580},{"s":"S2","x":0.794,"y":580},{"s":"S2","x":0.891,"y":575},{"s":"S2","x":1,"y":575},
{"s":"C2","x":0.0089,"y":850},{"s":"C2","x":0.01,"y":380},{"s":"C2","x":0.0112,"y":640},{"s":"C2","x":0.0126,"y":250},{"s":"C2","x":0.0141,"y":310},{"s":"C2","x":0.0158,"y":500},{"s":"C2","x":0.0178,"y":560},{"s":"C2","x":0.02,"y":660},{"s":"C2","x":0.0224,"y":710},{"s":"C2","x":0.0251,"y":560},{"s":"C2","x":0.0282,"y":690},{"s":"C2","x":0.0316,"y":400},{"s":"C2","x":0.0355,"y":690},{"s":"C2","x":0.0398,"y":700},{"s":"C2","x":0.0447,"y":560},{"s":"C2","x":0.0501,"y":540},{"s":"C2","x":0.0562,"y":610},{"s":"C2","x":0.0631,"y":690},{"s":"C2","x":0.0708,"y":720},{"s":"C2","x":0.0794,"y":730},{"s":"C2","x":0.0891,"y":700},{"s":"C2","x":0.1,"y":700},{"s":"C2","x":0.112,"y":720},{"s":"C2","x":0.126,"y":780},{"s":"C2","x":0.141,"y":720},{"s":"C2","x":0.158,"y":680},{"s":"C2","x":0.178,"y":660},{"s":"C2","x":0.2,"y":650},{"s":"C2","x":0.224,"y":640},{"s":"C2","x":0.251,"y":630},{"s":"C2","x":0.282,"y":620},{"s":"C2","x":0.316,"y":610},{"s":"C2","x":0.355,"y":600},{"s":"C2","x":0.398,"y":600},{"s":"C2","x":0.447,"y":595},{"s":"C2","x":0.501,"y":590},{"s":"C2","x":0.562,"y":585},{"s":"C2","x":0.631,"y":580},{"s":"C2","x":0.708,"y":580},{"s":"C2","x":0.794,"y":575},{"s":"C2","x":0.891,"y":570},{"s":"C2","x":1,"y":570},
{"s":"T2","x":0.0089,"y":420},{"s":"T2","x":0.01,"y":560},{"s":"T2","x":0.0112,"y":200},{"s":"T2","x":0.0126,"y":330},{"s":"T2","x":0.0141,"y":360},{"s":"T2","x":0.0158,"y":620},{"s":"T2","x":0.0178,"y":480},{"s":"T2","x":0.02,"y":600},{"s":"T2","x":0.0224,"y":520},{"s":"T2","x":0.0251,"y":580},{"s":"T2","x":0.0282,"y":420},{"s":"T2","x":0.0316,"y":580},{"s":"T2","x":0.0355,"y":600},{"s":"T2","x":0.0398,"y":450},{"s":"T2","x":0.0447,"y":620},{"s":"T2","x":0.0501,"y":560},{"s":"T2","x":0.0562,"y":540},{"s":"T2","x":0.0631,"y":500},{"s":"T2","x":0.0708,"y":560},{"s":"T2","x":0.0794,"y":560},{"s":"T2","x":0.0891,"y":580},{"s":"T2","x":0.1,"y":600},{"s":"T2","x":0.112,"y":640},{"s":"T2","x":0.126,"y":680},{"s":"T2","x":0.141,"y":700},{"s":"T2","x":0.158,"y":690},{"s":"T2","x":0.178,"y":650},{"s":"T2","x":0.2,"y":630},{"s":"T2","x":0.224,"y":620},{"s":"T2","x":0.251,"y":600},{"s":"T2","x":0.282,"y":600},{"s":"T2","x":0.316,"y":590},{"s":"T2","x":0.355,"y":580},{"s":"T2","x":0.398,"y":570},{"s":"T2","x":0.447,"y":570},{"s":"T2","x":0.501,"y":560},{"s":"T2","x":0.562,"y":560},{"s":"T2","x":0.631,"y":555},{"s":"T2","x":0.708,"y":550},{"s":"T2","x":0.794,"y":550},{"s":"T2","x":0.891,"y":545},{"s":"T2","x":1,"y":540},
{"s":"D2","x":0.0089,"y":850},{"s":"D2","x":0.01,"y":650},{"s":"D2","x":0.0112,"y":140},{"s":"D2","x":0.0126,"y":570},{"s":"D2","x":0.0141,"y":370},{"s":"D2","x":0.0158,"y":230},{"s":"D2","x":0.0178,"y":280},{"s":"D2","x":0.02,"y":420},{"s":"D2","x":0.0224,"y":170},{"s":"D2","x":0.0251,"y":540},{"s":"D2","x":0.0282,"y":380},{"s":"D2","x":0.0316,"y":290},{"s":"D2","x":0.0355,"y":420},{"s":"D2","x":0.0398,"y":230},{"s":"D2","x":0.0447,"y":380},{"s":"D2","x":0.0501,"y":350},{"s":"D2","x":0.0562,"y":350},{"s":"D2","x":0.0631,"y":420},{"s":"D2","x":0.0708,"y":430},{"s":"D2","x":0.0794,"y":470},{"s":"D2","x":0.0891,"y":480},{"s":"D2","x":0.1,"y":470},{"s":"D2","x":0.112,"y":470},{"s":"D2","x":0.126,"y":500},{"s":"D2","x":0.141,"y":540},{"s":"D2","x":0.158,"y":560},{"s":"D2","x":0.178,"y":580},{"s":"D2","x":0.2,"y":560},{"s":"D2","x":0.224,"y":540},{"s":"D2","x":0.251,"y":520},{"s":"D2","x":0.282,"y":510},{"s":"D2","x":0.316,"y":500},{"s":"D2","x":0.355,"y":500},{"s":"D2","x":0.398,"y":495},{"s":"D2","x":0.447,"y":490},{"s":"D2","x":0.501,"y":490},{"s":"D2","x":0.562,"y":485},{"s":"D2","x":0.631,"y":485},{"s":"D2","x":0.708,"y":480},{"s":"D2","x":0.794,"y":480},{"s":"D2","x":0.891,"y":480},{"s":"D2","x":1,"y":480}
]
},
"columns":2,
"spacing":{"row":22,"column":50},
"resolve":{"scale":{"color":"independent","shape":"independent","size":"independent","x":"independent","y":"independent"}},
"concat":[
{"width":318,"height":238,"layer":[
{"data":{"name":"A"},"transform":[{"filter":{"field":"s","oneOf":["S1","C1","T1","D1"]}}],"mark":{"type":"point","filled":true,"opacity":1},
"encoding":{"x":{"field":"x","type":"quantitative","scale":{"type":"log","domain":[0.006,1],"nice":false},"axis":{"orient":"bottom","title":"γ / %","values":[0.006,0.007,0.008,0.009,0.01,0.02,0.03,0.04,0.05,0.06,0.07,0.08,0.09,0.1,0.2,0.3,0.4,0.5,0.6,0.7,0.8,0.9,1],"labelExpr":"datum.value==0.01?'0.01':datum.value==0.1?'0.1':datum.value==1?'1':''"}},
"y":{"field":"y","type":"quantitative","scale":{"type":"log","domain":[10,100000],"nice":false},"axis":{"orient":"left","title":"G', G\" / Pa","values":[10,20,30,40,50,60,70,80,90,100,200,300,400,500,600,700,800,900,1000,2000,3000,4000,5000,6000,7000,8000,9000,10000,20000,30000,40000,50000,60000,70000,80000,90000,100000],"labelExpr":"datum.value==10?'10¹':datum.value==100?'10²':datum.value==1000?'10³':datum.value==10000?'10⁴':datum.value==100000?'10⁵':''"}},
"color":{"field":"s","type":"nominal","scale":{"domain":["S1","C1","T1","D1","S2","C2","T2","D2"],"range":["#ee3d5e","#e3001b","#2e0404","#000000","#f59aab","#ec2a3f","#7a3030","#333333"]},"legend":null},
"shape":{"field":"s","type":"nominal","scale":{"domain":["S1","C1","T1","D1","S2","C2","T2","D2"],"range":["square","circle","triangle-up","diamond","square","circle","triangle-up","diamond"]},"legend":null},
"size":{"field":"s","type":"ordinal","scale":{"domain":["S1","C1","T1","D1","S2","C2","T2","D2"],"range":[64,80,85,115,64,75,80,105]},"legend":null}}},
{"data":{"name":"A"},"transform":[{"filter":{"field":"s","oneOf":["S2","C2","T2","D2"]}}],"mark":{"type":"point","filled":false,"opacity":1,"strokeWidth":1.2},
"encoding":{"x":{"field":"x","type":"quantitative","scale":{"type":"log","domain":[0.006,1],"nice":false},"axis":{"orient":"top","title":null,"labels":false,"values":[0.006,0.007,0.008,0.009,0.01,0.02,0.03,0.04,0.05,0.06,0.07,0.08,0.09,0.1,0.2,0.3,0.4,0.5,0.6,0.7,0.8,0.9,1]}},
"y":{"field":"y","type":"quantitative","scale":{"type":"log","domain":[10,100000],"nice":false},"axis":{"orient":"right","title":null,"labels":false,"values":[10,20,30,40,50,60,70,80,90,100,200,300,400,500,600,700,800,900,1000,2000,3000,4000,5000,6000,7000,8000,9000,10000,20000,30000,40000,50000,60000,70000,80000,90000,100000]}},
"color":{"field":"s","type":"nominal","scale":{"domain":["S1","C1","T1","D1","S2","C2","T2","D2"],"range":["#ee3d5e","#e3001b","#2e0404","#000000","#f59aab","#ec2a3f","#7a3030","#333333"]},"legend":null},
"shape":{"field":"s","type":"nominal","scale":{"domain":["S1","C1","T1","D1","S2","C2","T2","D2"],"range":["square","circle","triangle-up","diamond","square","circle","triangle-up","diamond"]},"legend":null},
"size":{"field":"s","type":"ordinal","scale":{"domain":["S1","C1","T1","D1","S2","C2","T2","D2"],"range":[64,80,85,115,64,75,80,105]},"legend":null}}},
{"data":{"values":[{"t":"A","x":0.88,"y":63000}]},"mark":{"type":"text","fontSize":17,"font":"Liberation Sans","color":"#111","align":"center","baseline":"middle"},
"encoding":{"x":{"field":"x","type":"quantitative","scale":{"type":"log","domain":[0.006,1],"nice":false},"axis":null},"y":{"field":"y","type":"quantitative","scale":{"type":"log","domain":[10,100000],"nice":false},"axis":null},"text":{"field":"t"}}}
],"resolve":{"axis":{"x":"independent","y":"independent"}}},
{"width":318,"height":238,"layer":[
{"data":{"name":"B"},"transform":[{"filter":{"field":"s","oneOf":["S1","C1","T1","D1"]}}],"mark":{"type":"point","filled":true,"opacity":1},
"encoding":{"x":{"field":"x","type":"quantitative","scale":{"type":"log","domain":[0.006,1],"nice":false},"axis":{"orient":"bottom","title":"γ / %","values":[0.006,0.007,0.008,0.009,0.01,0.02,0.03,0.04,0.05,0.06,0.07,0.08,0.09,0.1,0.2,0.3,0.4,0.5,0.6,0.7,0.8,0.9,1],"labelExpr":"datum.value==0.01?'0.01':datum.value==0.1?'0.1':datum.value==1?'1':''"}},
"y":{"field":"y","type":"quantitative","scale":{"type":"log","domain":[10,100000],"nice":false},"axis":{"orient":"left","title":"G', G\" / Pa","values":[10,20,30,40,50,60,70,80,90,100,200,300,400,500,600,700,800,900,1000,2000,3000,4000,5000,6000,7000,8000,9000,10000,20000,30000,40000,50000,60000,70000,80000,90000,100000],"labelExpr":"datum.value==10?'10¹':datum.value==100?'10²':datum.value==1000?'10³':datum.value==10000?'10⁴':datum.value==100000?'10⁵':''"}},
"color":{"field":"s","type":"nominal","scale":{"domain":["S1","C1","T1","D1","S2","C2","T2","D2"],"range":["#ee3d5e","#e3001b","#2e0404","#000000","#f59aab","#ec2a3f","#7a3030","#333333"]},"legend":null},
"shape":{"field":"s","type":"nominal","scale":{"domain":["S1","C1","T1","D1","S2","C2","T2","D2"],"range":["square","circle","triangle-up","diamond","square","circle","triangle-up","diamond"]},"legend":null},
"size":{"field":"s","type":"ordinal","scale":{"domain":["S1","C1","T1","D1","S2","C2","T2","D2"],"range":[64,80,85,115,64,75,80,105]},"legend":null}}},
{"data":{"name":"B"},"transform":[{"filter":{"field":"s","oneOf":["S2","C2","T2","D2"]}}],"mark":{"type":"point","filled":false,"opacity":1,"strokeWidth":1.2},
"encoding":{"x":{"field":"x","type":"quantitative","scale":{"type":"log","domain":[0.006,1],"nice":false},"axis":{"orient":"top","title":null,"labels":false,"values":[0.006,0.007,0.008,0.009,0.01,0.02,0.03,0.04,0.05,0.06,0.07,0.08,0.09,0.1,0.2,0.3,0.4,0.5,0.6,0.7,0.8,0.9,1]}},
"y":{"field":"y","type":"quantitative","scale":{"type":"log","domain":[10,100000],"nice":false},"axis":{"orient":"right","title":null,"labels":false,"values":[10,20,30,40,50,60,70,80,90,100,200,300,400,500,600,700,800,900,1000,2000,3000,4000,5000,6000,7000,8000,9000,10000,20000,30000,40000,50000,60000,70000,80000,90000,100000]}},
"color":{"field":"s","type":"nominal","scale":{"domain":["S1","C1","T1","D1","S2","C2","T2","D2"],"range":["#ee3d5e","#e3001b","#2e0404","#000000","#f59aab","#ec2a3f","#7a3030","#333333"]},"legend":null},
"shape":{"field":"s","type":"nominal","scale":{"domain":["S1","C1","T1","D1","S2","C2","T2","D2"],"range":["square","circle","triangle-up","diamond","square","circle","triangle-up","diamond"]},"legend":null},
"size":{"field":"s","type":"ordinal","scale":{"domain":["S1","C1","T1","D1","S2","C2","T2","D2"],"range":[64,80,85,115,64,75,80,105]},"legend":null}}},
{"data":{"values":[{"t":"B","x":0.88,"y":63000}]},"mark":{"type":"text","fontSize":17,"font":"Liberation Sans","color":"#111","align":"center","baseline":"middle"},
"encoding":{"x":{"field":"x","type":"quantitative","scale":{"type":"log","domain":[0.006,1],"nice":false},"axis":null},"y":{"field":"y","type":"quantitative","scale":{"type":"log","domain":[10,100000],"nice":false},"axis":null},"text":{"field":"t"}}}
],"resolve":{"axis":{"x":"independent","y":"independent"}}},
{"width":318,"height":238,"layer":[
{"data":{"name":"C"},"transform":[{"filter":{"field":"s","oneOf":["S1","C1","T1","D1"]}}],"mark":{"type":"point","filled":true,"opacity":1},
"encoding":{"x":{"field":"x","type":"quantitative","scale":{"type":"log","domain":[0.006,1],"nice":false},"axis":{"orient":"bottom","title":"γ / %","values":[0.006,0.007,0.008,0.009,0.01,0.02,0.03,0.04,0.05,0.06,0.07,0.08,0.09,0.1,0.2,0.3,0.4,0.5,0.6,0.7,0.8,0.9,1],"labelExpr":"datum.value==0.01?'0.01':datum.value==0.1?'0.1':datum.value==1?'1':''"}},
"y":{"field":"y","type":"quantitative","scale":{"type":"log","domain":[10,100000],"nice":false},"axis":{"orient":"left","title":"G', G\" / Pa","values":[10,20,30,40,50,60,70,80,90,100,200,300,400,500,600,700,800,900,1000,2000,3000,4000,5000,6000,7000,8000,9000,10000,20000,30000,40000,50000,60000,70000,80000,90000,100000],"labelExpr":"datum.value==10?'10¹':datum.value==100?'10²':datum.value==1000?'10³':datum.value==10000?'10⁴':datum.value==100000?'10⁵':''"}},
"color":{"field":"s","type":"nominal","scale":{"domain":["S1","C1","T1","D1","S2","C2","T2","D2"],"range":["#3b58ef","#0d1ef0","#00002e","#000000","#97a5f7","#4455ff","#333340","#2a2a2a"]},"legend":null},
"shape":{"field":"s","type":"nominal","scale":{"domain":["S1","C1","T1","D1","S2","C2","T2","D2"],"range":["square","circle","triangle-up","diamond","square","circle","triangle-up","diamond"]},"legend":null},
"size":{"field":"s","type":"ordinal","scale":{"domain":["S1","C1","T1","D1","S2","C2","T2","D2"],"range":[64,80,85,115,64,75,80,105]},"legend":null}}},
{"data":{"name":"C"},"transform":[{"filter":{"field":"s","oneOf":["S2","C2","T2","D2"]}}],"mark":{"type":"point","filled":false,"opacity":1,"strokeWidth":1.2},
"encoding":{"x":{"field":"x","type":"quantitative","scale":{"type":"log","domain":[0.006,1],"nice":false},"axis":{"orient":"top","title":null,"labels":false,"values":[0.006,0.007,0.008,0.009,0.01,0.02,0.03,0.04,0.05,0.06,0.07,0.08,0.09,0.1,0.2,0.3,0.4,0.5,0.6,0.7,0.8,0.9,1]}},
"y":{"field":"y","type":"quantitative","scale":{"type":"log","domain":[10,100000],"nice":false},"axis":{"orient":"right","title":null,"labels":false,"values":[10,20,30,40,50,60,70,80,90,100,200,300,400,500,600,700,800,900,1000,2000,3000,4000,5000,6000,7000,8000,9000,10000,20000,30000,40000,50000,60000,70000,80000,90000,100000]}},
"color":{"field":"s","type":"nominal","scale":{"domain":["S1","C1","T1","D1","S2","C2","T2","D2"],"range":["#3b58ef","#0d1ef0","#00002e","#000000","#97a5f7","#4455ff","#333340","#2a2a2a"]},"legend":null},
"shape":{"field":"s","type":"nominal","scale":{"domain":["S1","C1","T1","D1","S2","C2","T2","D2"],"range":["square","circle","triangle-up","diamond","square","circle","triangle-up","diamond"]},"legend":null},
"size":{"field":"s","type":"ordinal","scale":{"domain":["S1","C1","T1","D1","S2","C2","T2","D2"],"range":[64,80,85,115,64,75,80,105]},"legend":null}}},
{"data":{"values":[{"t":"C","x":0.88,"y":63000}]},"mark":{"type":"text","fontSize":17,"font":"Liberation Sans","color":"#111","align":"center","baseline":"middle"},
"encoding":{"x":{"field":"x","type":"quantitative","scale":{"type":"log","domain":[0.006,1],"nice":false},"axis":null},"y":{"field":"y","type":"quantitative","scale":{"type":"log","domain":[10,100000],"nice":false},"axis":null},"text":{"field":"t"}}}
],"resolve":{"axis":{"x":"independent","y":"independent"}}},
{"width":318,"height":238,"layer":[
{"data":{"name":"D"},"transform":[{"filter":{"field":"s","oneOf":["S1","C1","T1","D1"]}}],"mark":{"type":"point","filled":true,"opacity":1},
"encoding":{"x":{"field":"x","type":"quantitative","scale":{"type":"log","domain":[0.006,1],"nice":false},"axis":{"orient":"bottom","title":"γ / %","values":[0.006,0.007,0.008,0.009,0.01,0.02,0.03,0.04,0.05,0.06,0.07,0.08,0.09,0.1,0.2,0.3,0.4,0.5,0.6,0.7,0.8,0.9,1],"labelExpr":"datum.value==0.01?'0.01':datum.value==0.1?'0.1':datum.value==1?'1':''"}},
"y":{"field":"y","type":"quantitative","scale":{"type":"log","domain":[10,100000],"nice":false},"axis":{"orient":"left","title":"G', G\" / Pa","values":[10,20,30,40,50,60,70,80,90,100,200,300,400,500,600,700,800,900,1000,2000,3000,4000,5000,6000,7000,8000,9000,10000,20000,30000,40000,50000,60000,70000,80000,90000,100000],"labelExpr":"datum.value==10?'10¹':datum.value==100?'10²':datum.value==1000?'10³':datum.value==10000?'10⁴':datum.value==100000?'10⁵':''"}},
"color":{"field":"s","type":"nominal","scale":{"domain":["S1","C1","T1","D1","S2","C2","T2","D2"],"range":["#3b58ef","#0d1ef0","#00002e","#000000","#97a5f7","#4455ff","#333340","#2a2a2a"]},"legend":null},
"shape":{"field":"s","type":"nominal","scale":{"domain":["S1","C1","T1","D1","S2","C2","T2","D2"],"range":["square","circle","triangle-up","diamond","square","circle","triangle-up","diamond"]},"legend":null},
"size":{"field":"s","type":"ordinal","scale":{"domain":["S1","C1","T1","D1","S2","C2","T2","D2"],"range":[64,80,85,115,64,75,80,105]},"legend":null}}},
{"data":{"name":"D"},"transform":[{"filter":{"field":"s","oneOf":["S2","C2","T2","D2"]}}],"mark":{"type":"point","filled":false,"opacity":1,"strokeWidth":1.2},
"encoding":{"x":{"field":"x","type":"quantitative","scale":{"type":"log","domain":[0.006,1],"nice":false},"axis":{"orient":"top","title":null,"labels":false,"values":[0.006,0.007,0.008,0.009,0.01,0.02,0.03,0.04,0.05,0.06,0.07,0.08,0.09,0.1,0.2,0.3,0.4,0.5,0.6,0.7,0.8,0.9,1]}},
"y":{"field":"y","type":"quantitative","scale":{"type":"log","domain":[10,100000],"nice":false},"axis":{"orient":"right","title":null,"labels":false,"values":[10,20,30,40,50,60,70,80,90,100,200,300,400,500,600,700,800,900,1000,2000,3000,4000,5000,6000,7000,8000,9000,10000,20000,30000,40000,50000,60000,70000,80000,90000,100000]}},
"color":{"field":"s","type":"nominal","scale":{"domain":["S1","C1","T1","D1","S2","C2","T2","D2"],"range":["#3b58ef","#0d1ef0","#00002e","#000000","#97a5f7","#4455ff","#333340","#2a2a2a"]},"legend":null},
"shape":{"field":"s","type":"nominal","scale":{"domain":["S1","C1","T1","D1","S2","C2","T2","D2"],"range":["square","circle","triangle-up","diamond","square","circle","triangle-up","diamond"]},"legend":null},
"size":{"field":"s","type":"ordinal","scale":{"domain":["S1","C1","T1","D1","S2","C2","T2","D2"],"range":[64,80,85,115,64,75,80,105]},"legend":null}}},
{"data":{"values":[{"t":"D","x":0.88,"y":63000}]},"mark":{"type":"text","fontSize":17,"font":"Liberation Sans","color":"#111","align":"center","baseline":"middle"},
"encoding":{"x":{"field":"x","type":"quantitative","scale":{"type":"log","domain":[0.006,1],"nice":false},"axis":null},"y":{"field":"y","type":"quantitative","scale":{"type":"log","domain":[10,100000],"nice":false},"axis":null},"text":{"field":"t"}}}
],"resolve":{"axis":{"x":"independent","y":"independent"}}}
],
"config":{
"view":{"stroke":"#333","strokeWidth":1.3},
"axis":{"grid":false,"tickSize":-4,"tickColor":"#333","tickWidth":1,"domainColor":"#333","domainWidth":1.3,"labelFont":"Liberation Sans","labelFontSize":15,"labelColor":"#111","labelPadding":8,"labelOverlap":false,"labelFlush":false,"labelBound":false,"titleFont":"Liberation Sans","titleFontSize":14,"titleFontWeight":"normal","titleColor":"#111"},
"axisY":{"titleFontSize":15,"titlePadding":4},
"axisX":{"titlePadding":2}
}
}
